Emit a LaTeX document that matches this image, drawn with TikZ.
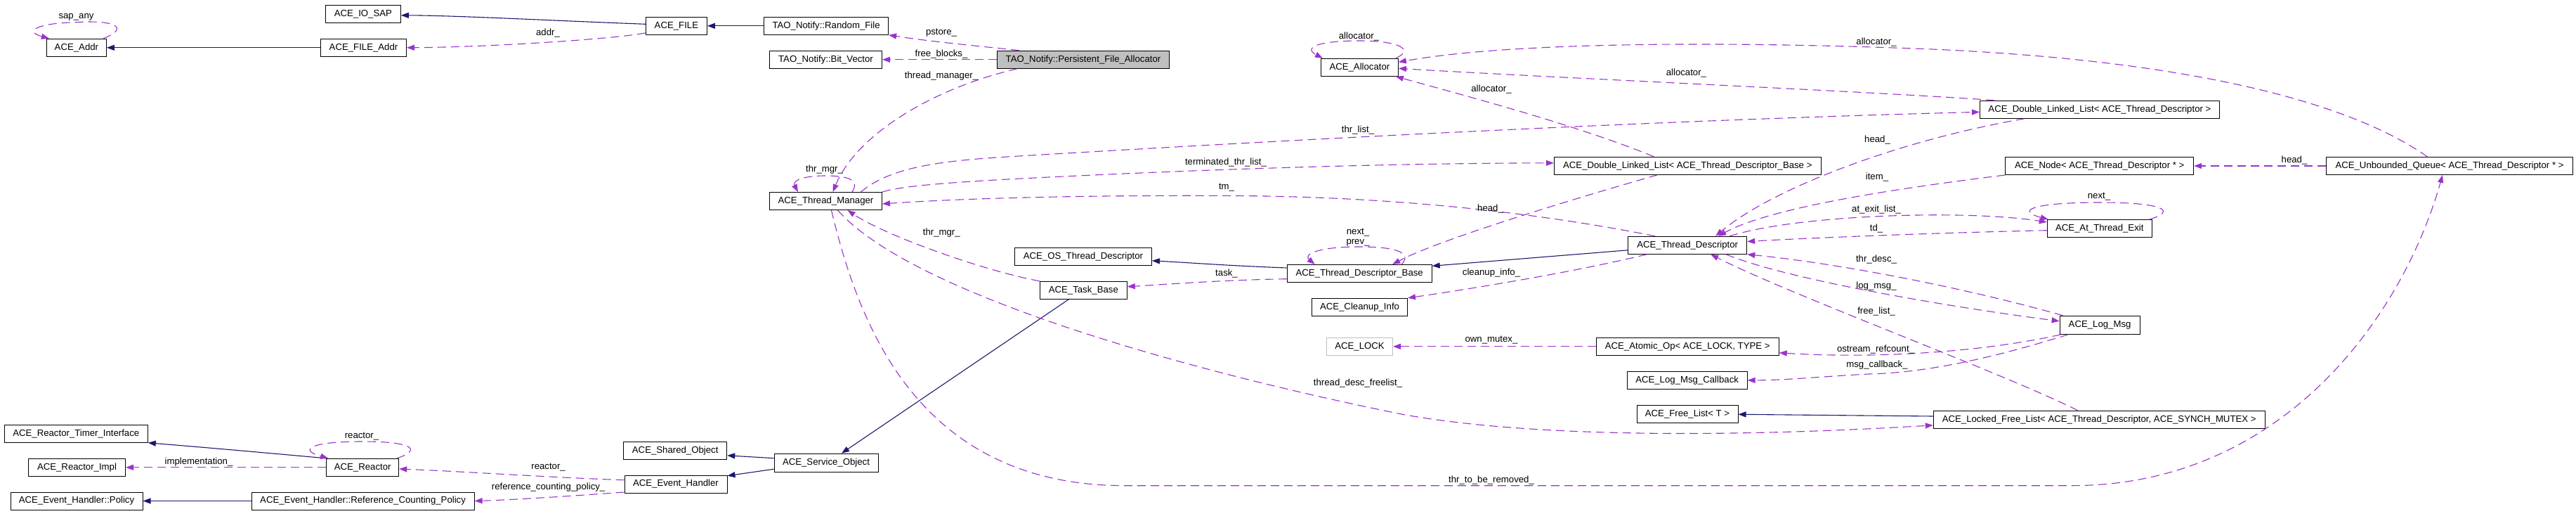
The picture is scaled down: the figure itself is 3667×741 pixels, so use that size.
\documentclass[tikz,border=0pt]{standalone}
\usepackage{fontspec}
\setmainfont{Liberation Sans}
\usetikzlibrary{arrows.meta}
\definecolor{usec}{HTML}{9A32CD}
\definecolor{inhc}{HTML}{191970}
\definecolor{fillg}{HTML}{BFBFBF}
\begin{document}
\begin{tikzpicture}[x=1pt,y=-1pt,
  cls/.style={draw=black, line width=1pt, minimum height=25pt, inner sep=0pt, fill=white,
    font=\fontsize{13.2pt}{15pt}\selectfont},
  lbl/.style={inner sep=0pt, font=\fontsize{13.2pt}{15pt}\selectfont},
  use/.style={draw=usec, line width=1.1pt, dash pattern=on 12pt off 7pt,
    -{Triangle[length=11pt,width=8pt]}},
  inh/.style={draw=inhc, line width=1.1pt, -{Triangle[length=11pt,width=8pt]}}]
\fill[white] (0,0) rectangle (3667,741);
\useasboundingbox (0,0) rectangle (3667,741);
% nodes
\node[cls, minimum width=85pt] (addr) at (108.9,67.8) {ACE\_Addr};
\node[cls, minimum width=107pt] (iosap) at (516.9,19.8) {ACE\_IO\_SAP};
\node[cls, minimum width=122pt] (fileaddr) at (517.5,67.8) {ACE\_FILE\_Addr};
\node[cls, minimum width=87pt] (file) at (962.9,36.8) {ACE\_FILE};
\node[cls, minimum width=177pt] (rfile) at (1176.1,36.8) {TAO\_Notify::Random\_File};
\node[cls, minimum width=160pt] (bitvec) at (1175.5,84.8) {TAO\_Notify::Bit\_Vector};
\node[cls, minimum width=245pt, fill=fillg] (pfa) at (1542,84.8) {TAO\_Notify::Persistent\_File\_Allocator};
\node[cls, minimum width=160pt] (tm) at (1175.5,286) {ACE\_Thread\_Manager};
\node[cls, minimum width=110pt] (alloc) at (1935.4,95.8) {ACE\_Allocator};
\node[cls, minimum width=380pt] (dlltdb) at (2402.3,235.8) {ACE\_Double\_Linked\_List< ACE\_Thread\_Descriptor\_Base >};
\node[cls, minimum width=341pt] (dlltd) at (2988.9,155.8) {ACE\_Double\_Linked\_List< ACE\_Thread\_Descriptor >};
\node[cls, minimum width=268pt] (node) at (2988.7,236) {ACE\_Node< ACE\_Thread\_Descriptor * >};
\node[cls, minimum width=351pt] (uq) at (3487,236) {ACE\_Unbounded\_Queue< ACE\_Thread\_Descriptor * >};
\node[cls, minimum width=149pt] (ate) at (2988.7,325) {ACE\_At\_Thread\_Exit};
\node[cls, minimum width=169pt] (td) at (2402.2,348.8) {ACE\_Thread\_Descriptor};
\node[cls, minimum width=195pt] (ostd) at (1541.9,364.8) {ACE\_OS\_Thread\_Descriptor};
\node[cls, minimum width=206pt] (tdb) at (1935.2,389) {ACE\_Thread\_Descriptor\_Base};
\node[cls, minimum width=124pt] (taskbase) at (1542.3,412.8) {ACE\_Task\_Base};
\node[cls, minimum width=136pt] (cleanup) at (1935.5,436.8) {ACE\_Cleanup\_Info};
\node[cls, minimum width=94pt, draw=fillg] (lock) at (1935.5,492.8) {ACE\_LOCK};
\node[cls, minimum width=260pt] (atomic) at (2402.2,492.8) {ACE\_Atomic\_Op< ACE\_LOCK, TYPE >};
\node[cls, minimum width=114pt, minimum height=26pt] (logmsg) at (2989.1,462.3) {ACE\_Log\_Msg};
\node[cls, minimum width=171pt] (lmcb) at (2401.6,540.8) {ACE\_Log\_Msg\_Callback};
\node[cls, minimum width=144pt] (freelist) at (2402,588.8) {ACE\_Free\_List< T >};
\node[cls, minimum width=472pt] (lfl) at (2988.2,596.8) {ACE\_Locked\_Free\_List< ACE\_Thread\_Descriptor, ACE\_SYNCH\_MUTEX >};
\node[cls, minimum width=204pt] (rti) at (108.3,616.8) {ACE\_Reactor\_Timer\_Interface};
\node[cls, minimum width=138pt] (rimpl) at (109.5,664.8) {ACE\_Reactor\_Impl};
\node[cls, minimum width=103pt] (reactor) at (516.2,664.8) {ACE\_Reactor};
\node[cls, minimum width=188pt] (policy) at (109,712.5) {ACE\_Event\_Handler::Policy};
\node[cls, minimum width=317pt] (rcp) at (516.6,712.5) {ACE\_Event\_Handler::Reference\_Counting\_Policy};
\node[cls, minimum width=147pt] (shobj) at (961.2,640.8) {ACE\_Shared\_Object};
\node[cls, minimum width=146pt] (eh) at (962,688.5) {ACE\_Event\_Handler};
\node[cls, minimum width=148pt, minimum height=26pt] (svcobj) at (1176,658.2) {ACE\_Service\_Object};
% inheritance
\draw[inh] ([yshift=2.5pt]file.west) .. controls (800,30) and (650,22) .. ([yshift=-2pt]iosap.east);
\draw[inh] (fileaddr.west) -- (addr.east);
\draw[inh] (rfile.west) -- (file.east);
\draw[inh] ([yshift=-7pt]td.west) -- ([yshift=10.7pt]tdb.east);
\draw[inh] ([yshift=8pt]tdb.west) .. controls (1750,378) and (1700,374) .. ([yshift=-6pt]ostd.east);
\draw[inh] ([xshift=-21pt]taskbase.south) -- ([xshift=22pt]svcobj.north);
\draw[inh] ([yshift=6.5pt]svcobj.west) -- ([yshift=-7pt]shobj.east);
\draw[inh] ([yshift=-9pt]svcobj.west) -- ([yshift=11.8pt]eh.east);
\draw[inh] (reactor.north west) .. controls (400,646) and (300,637) .. (rti.south east);
\draw[inh] (rcp.west) -- (policy.east);
\draw[inh] ([yshift=4.8pt]lfl.west) -- ([yshift=-0.5pt]freelist.east);
% usage
\draw[use] ([xshift=-5pt]addr.north east) .. controls (185,40) and (165,28) .. (108.5,31.7)
  .. controls (50,33) and (35,45) .. ([xshift=4pt]addr.north west);
\draw[use] ([yshift=-10pt]file.west) .. controls (880,55) and (700,67) .. (fileaddr.east);
\draw[use] ([xshift=-91pt]pfa.north) .. controls (1400,66) and (1330,60) .. (rfile.south east);
\draw[use] (pfa.west) -- (bitvec.east);
\draw[use] ([xshift=-94pt]pfa.south) .. controls (1330,125) and (1220,190) .. ([xshift=10pt]tm.north);
\draw[use] ([xshift=37.5pt]tm.north) .. controls (1225,255) and (1205,250) .. (1175,250)
  .. controls (1140,250) and (1128,258) .. ([xshift=-39.5pt]tm.north);
\draw[use] (taskbase.north west) .. controls (1400,385) and (1260,335) .. ([xshift=31pt]tm.south);
\draw[use] ([xshift=-46pt]td.north) .. controls (2200,305) and (2000,280) .. (1760,278.5)
  .. controls (1600,277.5) and (1400,280) .. ([yshift=-4pt]tm.east);
\draw[use] ([xshift=50pt]tm.north) .. controls (1270,235) and (1350,228) .. (1450,222)
  .. controls (1900,195) and (2400,170) .. ([yshift=-3.5pt]dlltd.west);
\draw[use] (tm.north east) .. controls (1290,262) and (1400,256) .. (1600,247)
  .. controls (1900,234) and (2100,232) .. ([yshift=4pt]dlltdb.west);
\draw[use] ([xshift=-48pt]dlltdb.north) .. controls (2250,180) and (2100,140) .. ([xshift=-4pt]alloc.south east);
\draw[use] ([xshift=-150pt]dlltd.north) .. controls (2700,132) and (2200,110) .. ([yshift=-1.5pt]alloc.east);
\draw[use] ([xshift=-31.5pt]uq.north) .. controls (3380,170) and (3200,90) .. (2750,70)
  .. controls (2450,58) and (2150,60) .. ([yshift=7.5pt]alloc.east);
\draw[use] ([xshift=-4pt]alloc.north east) .. controls (2015,70) and (1990,58) .. (1935,58)
  .. controls (1875,58) and (1855,68) .. ([xshift=3pt]alloc.north west);
\draw[use] ([xshift=-107pt]dlltd.south) .. controls (2700,200) and (2520,270) .. ([xshift=40pt]td.north);
\draw[use] (node.south west) .. controls (2700,268) and (2520,295) .. ([xshift=44pt]td.north);
\draw[use] (uq.west) -- (node.east);
\draw[use] ([xshift=60pt]td.north) .. controls (2560,305) and (2800,298) .. ([yshift=9pt]ate.west);
\draw[use] ([yshift=-2.7pt]ate.west) .. controls (2800,330) and (2600,337) .. ([yshift=5.3pt]td.east);
\draw[use] ([xshift=-4pt]ate.north east) .. controls (3100,300) and (3080,288) .. (2990,288)
  .. controls (2890,288) and (2870,300) .. ([xshift=2pt]ate.north west);
\draw[use] ([xshift=5pt]logmsg.north west) .. controls (2800,410) and (2620,375) .. (td.south east);
\draw[use] ([xshift=55pt]td.south) .. controls (2550,400) and (2800,440) .. ([yshift=5.6pt]logmsg.west);
\draw[use] ([xshift=-30.4pt]lfl.north) .. controls (2850,530) and (2550,420) .. ([xshift=33pt]td.south);
\draw[use] ([xshift=2pt]logmsg.south west) .. controls (2850,495) and (2700,512) .. ([yshift=-9pt]atomic.east);
\draw[use] ([xshift=-45pt]logmsg.south) .. controls (2850,505) and (2750,530) .. (2660,532)
  .. controls (2600,535) and (2540,541) .. (lmcb.east);
\draw[use] (atomic.west) -- (lock.east);
\draw[use] ([xshift=-58pt]td.south) .. controls (2250,385) and (2100,410) .. (cleanup.north east);
\draw[use] ([yshift=-7.7pt]tdb.west) .. controls (1750,398) and (1680,403) .. ([yshift=5pt]taskbase.east);
\draw[use] ([xshift=60pt]tdb.north) .. controls (2010,360) and (1990,351) .. (1935,351)
  .. controls (1875,351) and (1855,362) .. ([xshift=-63.5pt]tdb.north);
\draw[use] ([xshift=-43pt]dlltdb.south) .. controls (2250,280) and (2050,340) .. ([xshift=47pt]tdb.north);
\draw[use] ([xshift=17pt]tm.south) .. controls (1300,420) and (1700,530) .. (2000,590)
  .. controls (2200,625) and (2500,620) .. ([yshift=-8pt]lfl.west);
\draw[use] ([xshift=8pt]tm.south) .. controls (1220,450) and (1300,690) .. (1600,690.7)
  -- (2950,690.7) .. controls (3250,690) and (3420,450) .. ([xshift=-10pt]uq.south);
\draw[use] ([yshift=5.8pt]eh.west) .. controls (800,680) and (650,670) .. ([yshift=-2.2pt]reactor.east);
\draw[use] ([yshift=-11.5pt]eh.west) .. controls (820,705) and (730,711) .. (rcp.east);
\draw[use] (reactor.west) -- (rimpl.east);
\draw[use] ([xshift=-3pt]reactor.north east) .. controls (600,640) and (590,628) .. (516,628)
  .. controls (440,628) and (425,640) .. ([xshift=3pt]reactor.north west);
% labels
\node[lbl] (l1) at (108.5,24) {sap\_any};
\node[lbl] (l2) at (780,47) {addr\_};
\node[lbl] (l3) at (1340,47) {pstore\_};
\node[lbl] (l4) at (1340,77) {free\_blocks\_};
\node[lbl] (l5) at (1340,108) {thread\_manager\_};
\node[lbl] (l6) at (1173.5,241) {thr\_mgr\_};
\node[lbl] (l7) at (1340.3,331) {thr\_mgr\_};
\node[lbl] (l8) at (1745,231) {terminated\_thr\_list\_};
\node[lbl] (l9) at (1746,267) {tm\_};
\node[lbl] (l10) at (1746,389) {task\_};
\node[lbl] (l11) at (1934.5,52.3) {allocator\_};
\node[lbl] (l12) at (2671,60) {allocator\_};
\node[lbl] (l13) at (2400.4,104) {allocator\_};
\node[lbl] (l14) at (2123,127) {allocator\_};
\node[lbl] (l15) at (1933,185) {thr\_list\_};
\node[lbl] (l16) at (2672.5,199) {head\_};
\node[lbl] (l17) at (2672,252.5) {item\_};
\node[lbl] (l18) at (3266,228) {head\_};
\node[lbl] (l19) at (2988,280) {next\_};
\node[lbl] (l20) at (2671,298) {at\_exit\_list\_};
\node[lbl] (l21) at (2671,325) {td\_};
\node[lbl] (l22) at (2671,369) {thr\_desc\_};
\node[lbl] (l23) at (2671,407) {log\_msg\_};
\node[lbl] (l24) at (2671,443) {free\_list\_};
\node[lbl] (l25) at (2670,497) {ostream\_refcount\_};
\node[lbl] (l26) at (2672,519) {msg\_callback\_};
\node[lbl] (l27) at (2123,484) {own\_mutex\_};
\node[lbl] (l28) at (2123,388) {cleanup\_info\_};
\node[lbl] (l29) at (1933,331) {next\_};
\node[lbl] (l30) at (1933,345) {prev\_};
\node[lbl] (l31) at (2121.5,297) {head\_};
\node[lbl] (l32) at (1933,545) {thread\_desc\_freelist\_};
\node[lbl] (l33) at (2123,683) {thr\_to\_be\_removed\_};
\node[lbl] (l34) at (515,621) {reactor\_};
\node[lbl] (l35) at (780.6,664.3) {reactor\_};
\node[lbl] (l36) at (780.6,693.3) {reference\_counting\_policy\_};
\node[lbl] (l37) at (283,657) {implementation\_};
\end{tikzpicture}
\end{document}
